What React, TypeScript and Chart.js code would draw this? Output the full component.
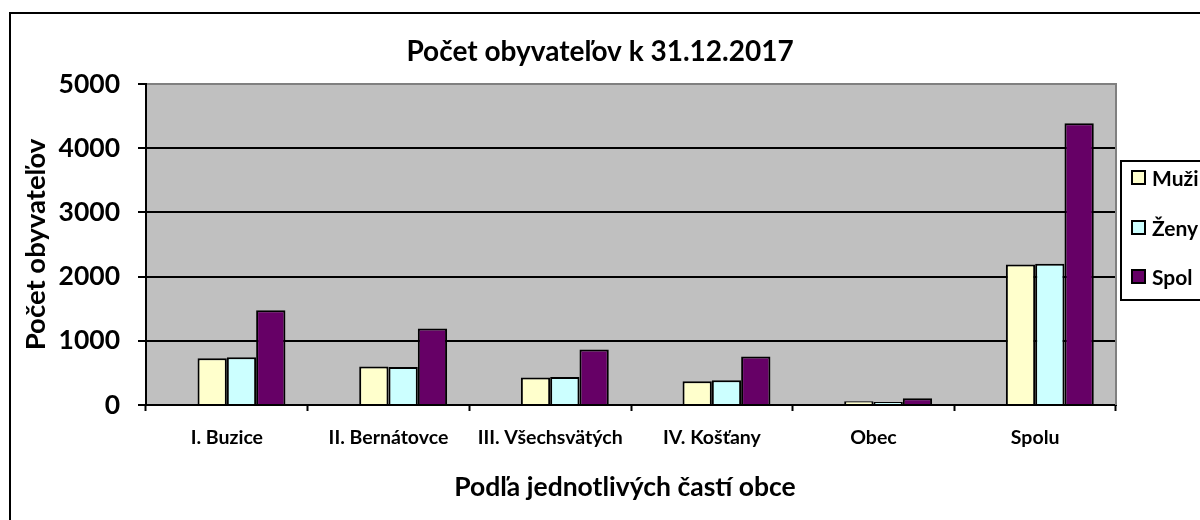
import React, { useEffect, useRef } from 'react';
import { Chart, registerables } from 'chart.js';

Chart.register(...registerables);

const categories = ['I. Buzice', 'II. Bernátovce', 'III. Všechsvätých', 'IV. Košťany', 'Obec', 'Spolu'];
const seriesNames = ['Muži', 'Ženy', 'Spol'];
const muzi = [730, 600, 430, 370, 60, 2190];
const zeny = [745, 590, 435, 385, 45, 2200];
const spolu = [1475, 1190, 865, 755, 105, 4390];
const emptySeries = [null, null, null, null, null, null];
const yMin = 0;
const yMax = 5000;
const yStep = 1000;
const titleText = 'Počet obyvateľov k 31.12.2017';
const yTitleText = 'Počet obyvateľov';
const xTitleText = 'Podľa jednotlivých častí obce';

const FONT = 'Lato, "Open Sans", sans-serif';

const decorPlugin = {
  id: 'decor',
  beforeDraw(chart: any) {
    const { ctx, chartArea } = chart;
    ctx.save();
    ctx.fillStyle = '#ffffff';
    ctx.fillRect(0, 0, chart.width, chart.height);
    ctx.fillStyle = '#C0C0C0';
    ctx.fillRect(chartArea.left, chartArea.top, chartArea.right - chartArea.left, chartArea.bottom - chartArea.top);
    ctx.restore();
  },
  afterDraw(chart: any) {
    const { ctx, chartArea } = chart;
    ctx.save();
    // plot right border
    ctx.strokeStyle = '#808080';
    ctx.lineWidth = 2;
    ctx.beginPath();
    ctx.moveTo(chartArea.right, chartArea.top - 1);
    ctx.lineTo(chartArea.right, chartArea.bottom);
    ctx.stroke();
    // outer frame
    ctx.strokeStyle = '#000000';
    ctx.lineWidth = 2;
    ctx.strokeRect(10, 13, 1400, 600);
    // title
    ctx.fillStyle = '#000000';
    ctx.font = 'bold 28px ' + FONT;
    ctx.textAlign = 'center';
    ctx.textBaseline = 'middle';
    ctx.fillText(titleText, 600, 52);
    // x axis title
    ctx.font = 'bold 26.5px ' + FONT;
    ctx.fillText(xTitleText, 625, 487);
    // legend
    ctx.fillStyle = '#ffffff';
    ctx.fillRect(1121, 161, 200, 139);
    ctx.strokeStyle = '#000000';
    ctx.lineWidth = 2;
    ctx.strokeRect(1121, 161, 200, 139);
    const items = chart.data.datasets.filter((d: any) => d.label);
    const ys = [178, 228, 277];
    ctx.font = 'bold 21px ' + FONT;
    ctx.textAlign = 'left';
    items.forEach((d: any, i: number) => {
      const y = ys[i];
      ctx.fillStyle = d.backgroundColor;
      ctx.fillRect(1132, y - 7, 13, 13);
      ctx.strokeStyle = '#000000';
      ctx.lineWidth = 2;
      ctx.strokeRect(1132, y - 7, 13, 13);
      ctx.fillStyle = '#000000';
      ctx.fillText(d.label, 1152, y + 1);
    });
    ctx.restore();
  },
};

export default function App() {
  const canvasRef = useRef<HTMLCanvasElement | null>(null);

  useEffect(() => {
    let chart: Chart | null = null;
    let cancelled = false;
    const make = () => {
      if (cancelled || !canvasRef.current) return;
      chart = new Chart(canvasRef.current, {
        type: 'bar',
        data: {
          labels: categories,
          datasets: [
            { label: '', data: emptySeries, backgroundColor: 'rgba(0,0,0,0)', borderWidth: 0 },
            { label: seriesNames[0], data: muzi, backgroundColor: '#FFFFCC', borderColor: '#000000', borderWidth: 2 },
            { label: seriesNames[1], data: zeny, backgroundColor: '#CCFFFF', borderColor: '#000000', borderWidth: 2 },
            { label: seriesNames[2], data: spolu, backgroundColor: '#660066', borderColor: '#000000', borderWidth: 2 },
          ] as any,
        },
        options: {
          animation: false,
          responsive: false,
          devicePixelRatio: 1,
          layout: { padding: { left: 10, right: 84, top: 84, bottom: 0 } },
          datasets: { bar: { categoryPercentage: 0.725, barPercentage: 1.0 } } as any,
          plugins: {
            legend: { display: false },
            title: { display: false },
            tooltip: { enabled: false },
          },
          scales: {
            x: {
              grid: {
                display: true,
                drawOnChartArea: false,
                drawTicks: true,
                tickLength: 6,
                tickWidth: 2,
                tickColor: '#000000',
                offset: true,
              },
              border: { display: true, color: '#000000', width: 2 },
              ticks: {
                color: '#000000',
                font: { family: FONT, size: 19.5, weight: 'bold' },
                padding: 15,
                maxRotation: 0,
                autoSkip: false,
              },
              title: { display: false },
              afterFit(scale: any) {
                scale.height = 115;
              },
            },
            y: {
              min: yMin,
              max: yMax,
              ticks: {
                stepSize: yStep,
                color: '#000000',
                font: { family: FONT, size: 26.5, weight: 'bold' },
                padding: 18,
                callback: (v: any) => String(v),
              },
              grid: {
                color: (c: any) => (c.tick && c.tick.value === yMax ? '#808080' : '#000000'),
                lineWidth: 2,
                drawTicks: true,
                tickLength: 8,
                tickWidth: 2,
                tickColor: '#000000',
              },
              border: { display: true, color: '#000000', width: 2 },
              title: {
                display: true,
                text: yTitleText,
                color: '#000000',
                font: { family: FONT, size: 27.5, weight: 'bold' },
                padding: { top: 10, bottom: 0 },
              },
              afterFit(scale: any) {
                scale.width = 136;
              },
            },
          },
        } as any,
        plugins: [decorPlugin],
      });
    };
    if ((document as any).fonts && (document as any).fonts.load) {
      Promise.all([
        (document as any).fonts.load('bold 20px Lato'),
      ]).then(make, make);
    } else {
      make();
    }
    return () => {
      cancelled = true;
      if (chart) chart.destroy();
    };
  }, []);

  return (
    <div style={{ position: 'absolute', left: 0, top: 0, width: 1200, height: 520, background: '#fff' }}>
      <canvas ref={canvasRef} width={1200} height={520} style={{ display: 'block', width: 1200, height: 520 }} />
    </div>
  );
}
